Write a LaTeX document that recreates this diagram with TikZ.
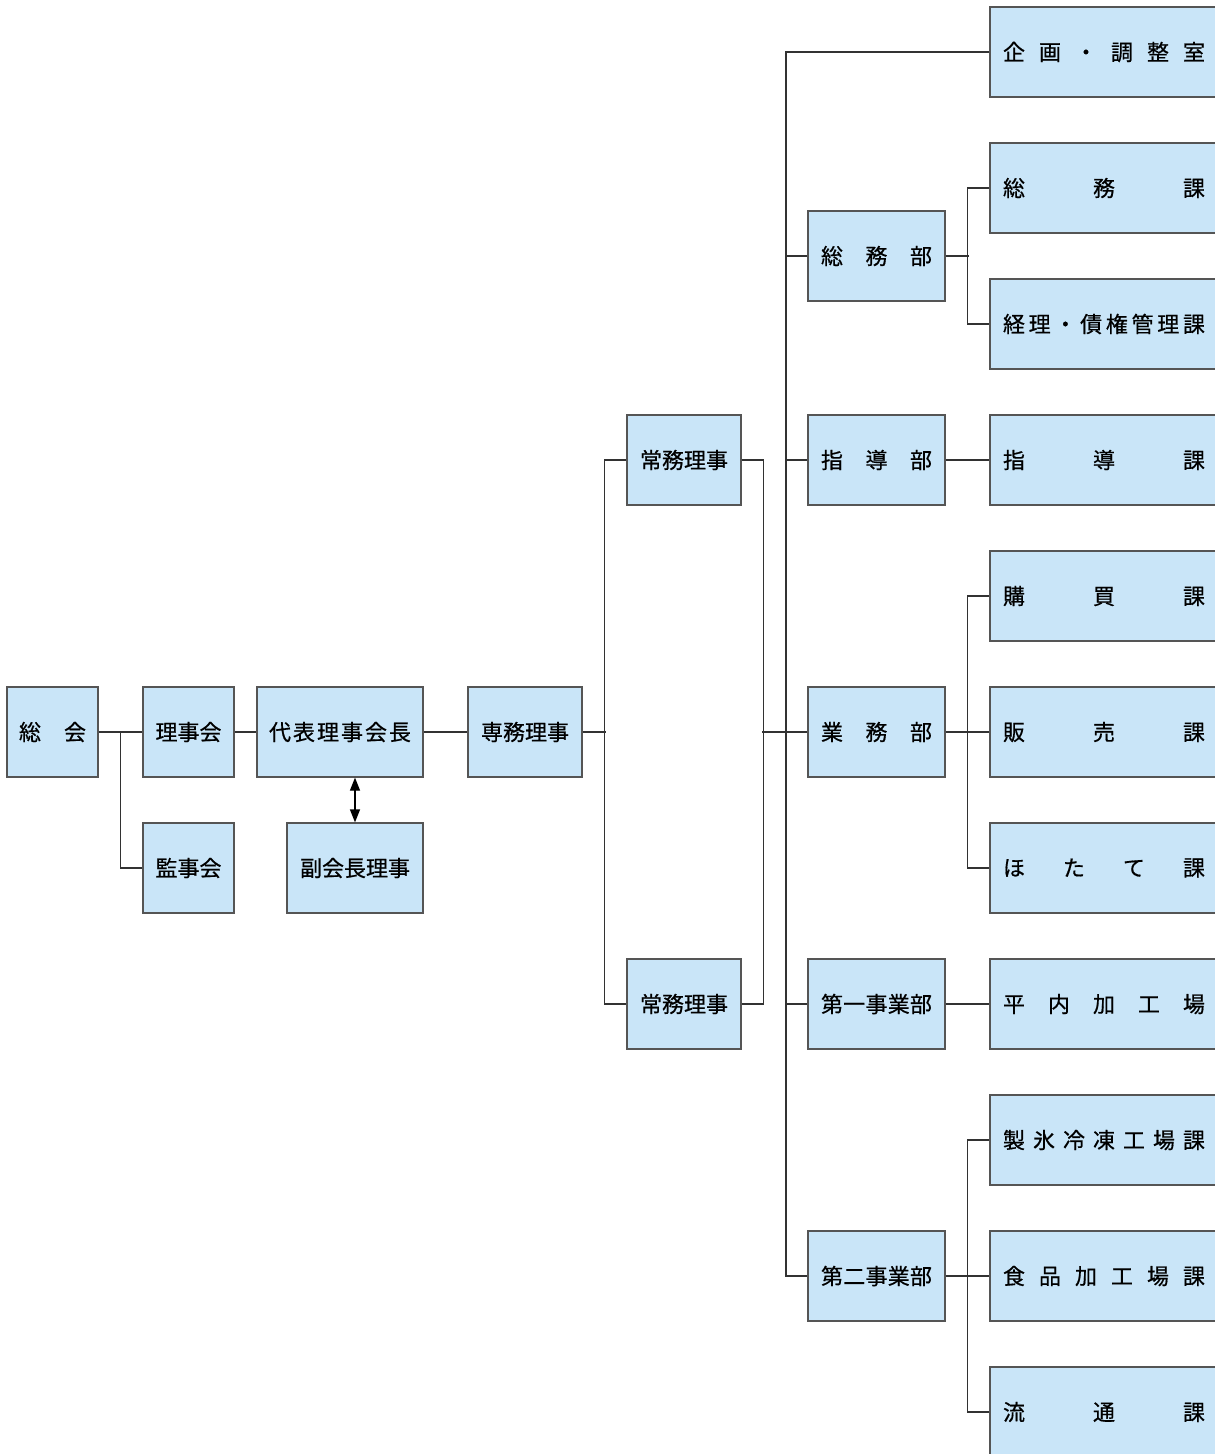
\documentclass[tikz,border=0pt]{standalone}
\usepackage{fontspec}
\setmainfont{Noto Sans CJK JP}
\usetikzlibrary{arrows.meta}
\definecolor{boxfill}{RGB}{201,229,248}
\definecolor{boxline}{RGB}{85,85,85}
\definecolor{connc}{RGB}{50,50,50}
\newcommand{\jt}[2]{\makebox[#1pt][s]{#2}}
\begin{document}
\begin{tikzpicture}[x=1pt,y=-1pt,
  box/.style={draw=boxline, fill=boxfill, line width=1.2pt, inner sep=0pt,
    font=\fontsize{22pt}{26pt}\selectfont\addfontfeature{FakeBold=0.6}, minimum height=90pt},
  lbox/.style={box, minimum width=91pt},
  cbox/.style={box, minimum width=114pt},
  mbox/.style={box, minimum width=137pt},
  rbox/.style={box, minimum width=228pt},
  conn/.style={draw=connc, line width=1.2pt},
  dblarrow/.style={draw=black, line width=1.2pt, {Triangle[length=13pt,width=10pt]}-{Triangle[length=13pt,width=10pt]}}]
\fill[white] (0,0) rectangle (1215,1454);
\clip (0,0) rectangle (1215,1454);
% left part
\node[lbox] (sokai) at (52.5,732) {\jt{67}{総\hfill 会}};
\node[lbox] (rijikai) at (188.5,732) {理事会};
\node[lbox] (kanjikai) at (188.5,868) {監事会};
\node[box, minimum width=166pt] (daihyo) at (340,732) {\jt{142}{代\hfill 表\hfill 理\hfill 事\hfill 会\hfill 長}};
\node[box, minimum width=136pt] (fuku) at (355,868) {副会長理事};
\node[cbox] (senmu) at (525,732) {専務理事};
\node[cbox] (jomu1) at (684,460) {常務理事};
\node[cbox] (jomu2) at (684,1004) {常務理事};
% middle column
\node[mbox] (somubu) at (876.5,256) {\jt{111}{総\hfill 務\hfill 部}};
\node[mbox] (shidobu) at (876.5,460) {\jt{111}{指\hfill 導\hfill 部}};
\node[mbox] (gyomubu) at (876.5,732) {\jt{111}{業\hfill 務\hfill 部}};
\node[mbox] (dai1) at (876.5,1004) {\jt{111}{第\hfill 一\hfill 事\hfill 業\hfill 部}};
\node[mbox] (dai2) at (876.5,1276) {\jt{111}{第\hfill 二\hfill 事\hfill 業\hfill 部}};
% right column
\node[rbox] (kikaku) at (1104,52) {\jt{202}{企\hfill 画\hfill ・\hfill 調\hfill 整\hfill 室}};
\node[rbox] (somuka) at (1104,188) {\jt{202}{総\hfill 務\hfill 課}};
\node[rbox] (keiri) at (1104,324) {\jt{202}{経\hfill 理\hfill ・\hfill 債\hfill 権\hfill 管\hfill 理\hfill 課}};
\node[rbox] (shidoka) at (1104,460) {\jt{202}{指\hfill 導\hfill 課}};
\node[rbox] (kobai) at (1104,596) {\jt{202}{購\hfill 買\hfill 課}};
\node[rbox] (hanbai) at (1104,732) {\jt{202}{販\hfill 売\hfill 課}};
\node[rbox] (hotate) at (1104,868) {\jt{202}{ほ\hfill た\hfill て\hfill 課}};
\node[rbox] (hiranai) at (1104,1004) {\jt{202}{平\hfill 内\hfill 加\hfill 工\hfill 場}};
\node[rbox] (seihyo) at (1104,1140) {\jt{202}{製\hfill 氷\hfill 冷\hfill 凍\hfill 工\hfill 場\hfill 課}};
\node[rbox] (shokuhin) at (1104,1276) {\jt{202}{食\hfill 品\hfill 加\hfill 工\hfill 場\hfill 課}};
\node[rbox] (ryutsu) at (1104,1412) {\jt{202}{流\hfill 通\hfill 課}};
% connectors left
\draw[conn] (sokai.east) -- (rijikai.west);
\draw[conn] (kanjikai.west) -- ++(-22,0) |- (sokai.east);
\draw[conn] (rijikai.east) -- (daihyo.west);
\draw[dblarrow] (fuku.north |- daihyo.south) -- (fuku.north);
\draw[conn] (daihyo.east) -- (senmu.west);
\draw[conn] (senmu.east) -- ++(23,0);
\draw[conn] (jomu1.west) -- ++(-22,0) |- (jomu2.west);
\draw[conn] (jomu1.east) -- ++(22,0) |- (jomu2.east);
\draw[conn] (gyomubu.west) -- ++(-45,0);
% trunk
\coordinate (trunk) at (786,52);
\draw[conn] (kikaku.west) -- (trunk) -- (trunk |- dai2.west) -- (dai2.west);
\draw[conn] (somubu.west) -- (somubu.west -| trunk);
\draw[conn] (shidobu.west) -- (shidobu.west -| trunk);
\draw[conn] (dai1.west) -- (dai1.west -| trunk);
% right branches
\draw[conn] (somubu.east) -- ++(23,0);
\draw[conn] (somuka.west) -- ++(-22,0) |- (keiri.west);
\draw[conn] (shidobu.east) -- (shidoka.west);
\draw[conn] (gyomubu.east) -- (hanbai.west);
\draw[conn] (kobai.west) -- ++(-22,0) |- (hotate.west);
\draw[conn] (dai1.east) -- (hiranai.west);
\draw[conn] (dai2.east) -- (shokuhin.west);
\draw[conn] (seihyo.west) -- ++(-22,0) |- (ryutsu.west);
\end{tikzpicture}
\end{document}
